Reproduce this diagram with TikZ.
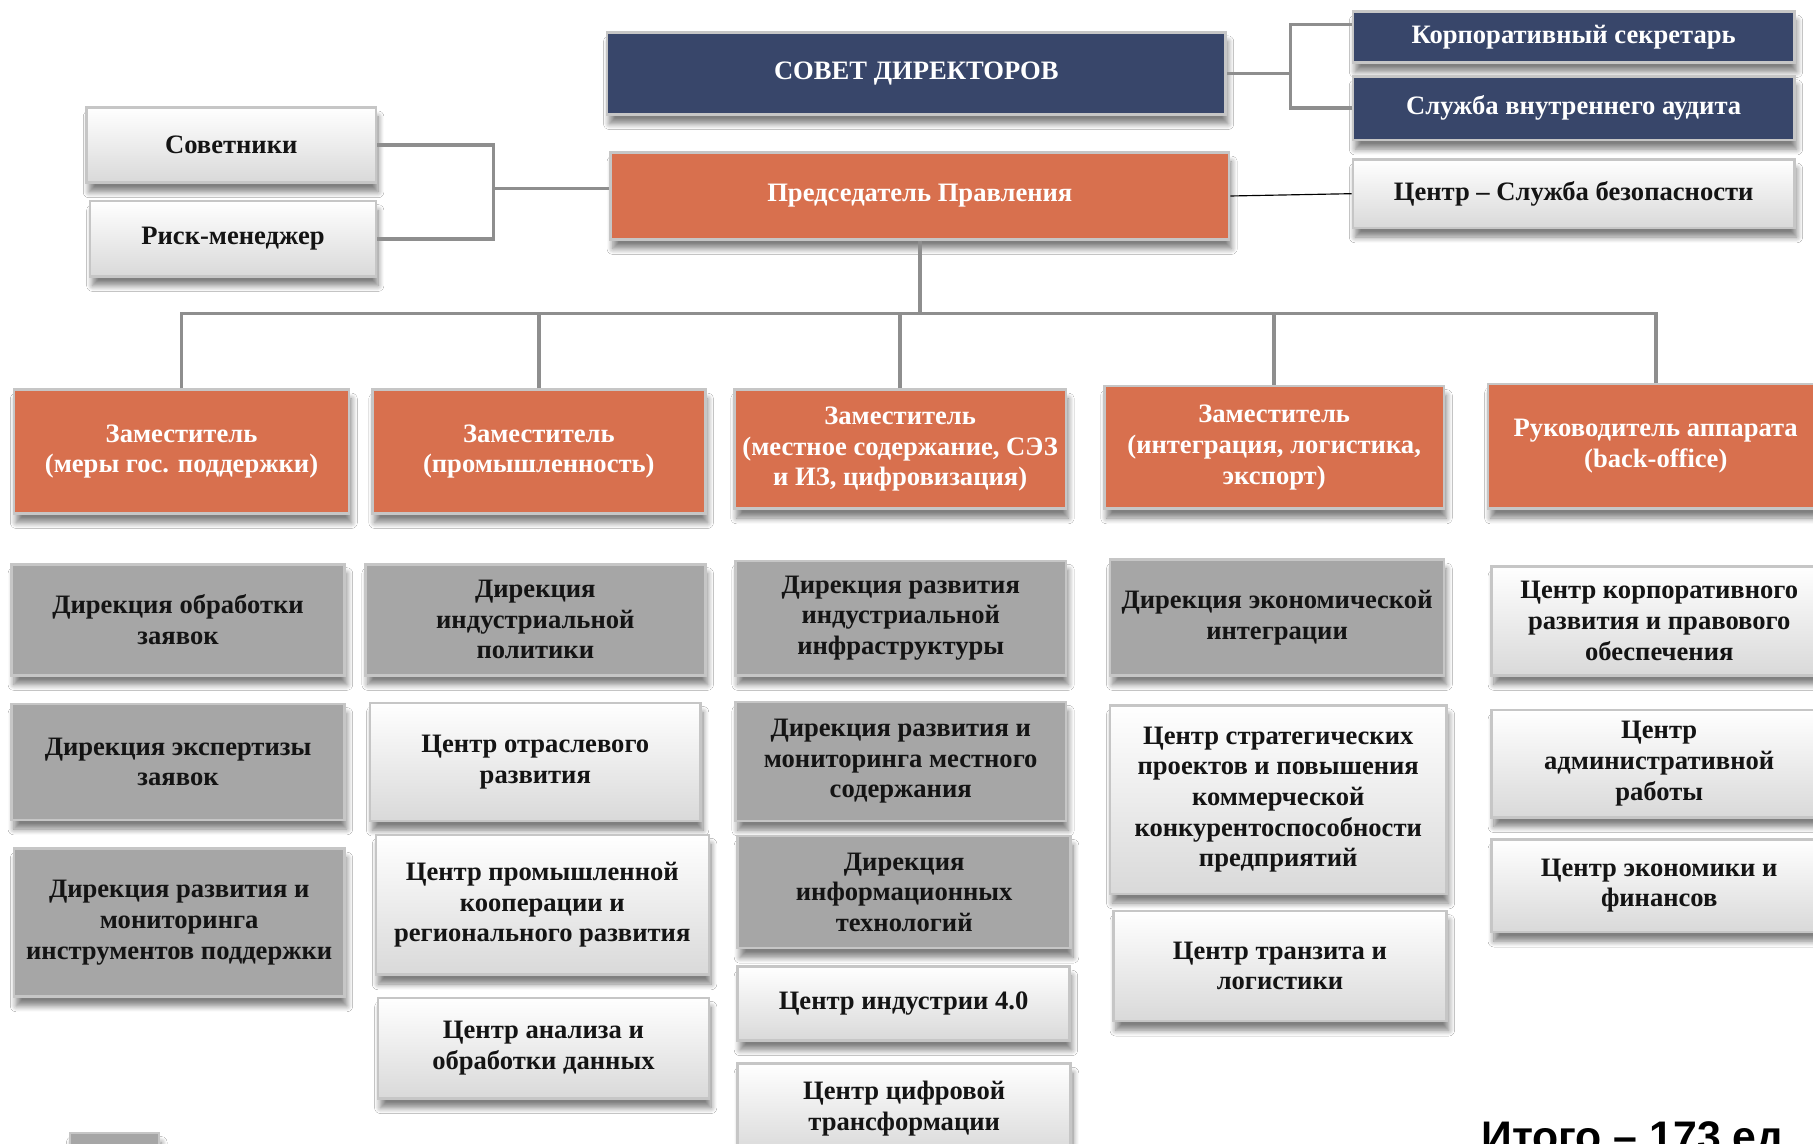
\documentclass[tikz,border=0pt]{standalone}
\usepackage{fontspec}
\setmainfont{Liberation Serif}
\newfontfamily\sansb{Liberation Sans}
\usetikzlibrary{shadows.blur,calc}
\definecolor{navy}{HTML}{38466A}
\definecolor{orng}{HTML}{D8704E}
\definecolor{dgray}{HTML}{A6A6A6}
\definecolor{edge}{HTML}{C6C6C6}
\definecolor{wbot}{HTML}{D9D9D9}
\definecolor{wirec}{HTML}{8E8E8E}
\definecolor{ink}{HTML}{141414}
\tikzset{
  unit/.style={rectangle,draw=edge,line width=2.2pt,align=center,inner sep=2pt,
    font=\fontsize{23}{26.5}\selectfont\bfseries,
    blur shadow={shadow xshift=2pt,shadow yshift=-8pt,shadow blur radius=5pt,
      shadow blur steps=8,shadow opacity=50}},
  sz/.style 2 args={minimum width=#1,minimum height=#2},
  board/.style={unit,fill=navy,text=white},
  head/.style={unit,fill=orng,text=white},
  dept/.style={unit,fill=dgray,text=ink},
  cntr/.style={unit,top color=white,bottom color=wbot,text=ink},
  wire/.style={draw=wirec,line width=3pt},
}

\begin{document}
\begin{tikzpicture}[x=1pt,y=-1pt]
  \fill[white] (0,0) rectangle (1568,989);
  \useasboundingbox (0,0) rectangle (1568,989);
  % ---------- top level ----------
  \node[board,sz={535}{71}] (sovet) at (792.5,63.5) {СОВЕТ ДИРЕКТОРОВ};
  \node[board,sz={382}{44}] (corp) at (1361,32) {Корпоративный секретарь};
  \node[board,sz={382}{55}] (audit) at (1361,93.5) {Служба внутреннего аудита};
  \node[head,sz={535}{75}] (pred) at (795.5,169.5) {Председатель Правления};
  \node[cntr,sz={382}{59}] (sb) at (1361,167.5) {Центр – Служба безопасности};
  \node[cntr,sz={250}{65}] (sovetn) at (200,125.5) {Советники};
  \node[cntr,sz={247}{65}] (risk) at (201.5,206.5) {Риск-менеджер};
  \draw[wire] (sovet.east) -- ++(55,0) coordinate (jb);
  \draw[wire] ([yshift=11pt]corp.west) -| (jb) |- (audit.west);
  \coordinate (ja) at (427,163);
  \draw[wire] (sovetn.east) -| (ja) |- (risk.east);
  \draw[wire] (ja) -- (ja -| pred.west);
  \draw[black,line width=1pt] (pred.east) -- (sb.west);
  % ---------- deputies ----------
  \node[head,sz={290}{107}] (d1) at (157,390.5) {Заместитель\\(меры гос. поддержки)};
  \node[head,sz={288}{107}] (d2) at (466,390.5) {Заместитель\\(промышленность)};
  \node[head,sz={287}{103}] (d3) at (778.5,388.5) {Заместитель\\(местное содержание, СЭЗ\\и ИЗ, цифровизация)};
  \node[head,sz={294}{106}] (d4) at (1102,387) {Заместитель\\(интеграция, логистика,\\экспорт)};
  \node[head,sz={290}{108}] (d5) at (1432,386) {Руководитель аппарата\\(back-office)};
  \coordinate (bus) at (795.5,271);
  \draw[wire] (pred.south) -- (bus);
  \foreach \d in {d1,d2,d3,d4,d5} \draw[wire] (\d.north) |- (bus);
  % ---------- units ----------
  \node[dept,sz={288}{96}] (c1a) at (154,536) {Дирекция обработки\\заявок};
  \node[dept,sz={288}{100}] (c1b) at (154,659) {Дирекция экспертизы\\заявок};
  \node[dept,sz={286}{128}] (c1c) at (155,798) {Дирекция развития и\\мониторинга\\инструментов поддержки};
  \node[dept,sz={294}{96}] (c2a) at (463,536) {Дирекция\\индустриальной\\политики};
  \node[cntr,sz={286}{102}] (c2b) at (463,659) {Центр отраслевого\\развития};
  \node[cntr,sz={288}{121}] (c2c) at (469,782.5) {Центр промышленной\\кооперации и\\регионального развития};
  \node[cntr,sz={286}{87}] (c2d) at (470,906.5) {Центр анализа и\\обработки данных};
  \node[dept,sz={286}{99}] (c3a) at (779,534.5) {Дирекция развития\\индустриальной\\инфраструктуры};
  \node[dept,sz={286}{103}] (c3b) at (779,658.5) {Дирекция развития и\\мониторинга местного\\содержания};
  \node[dept,sz={288}{97}] (c3c) at (782,771.5) {Дирекция\\информационных\\технологий};
  \node[cntr,sz={287}{64}] (c3d) at (781.5,868) {Центр индустрии 4.0};
  \node[cntr,sz={288}{78}] (c3e) at (782,959) {Центр цифровой\\трансформации};
  \node[dept,sz={289}{100}] (c4a) at (1104.5,534) {Дирекция экономической\\интеграции};
  \node[cntr,sz={291}{163}] (c4b) at (1105.5,691.5) {Центр стратегических\\проектов и повышения\\коммерческой\\конкурентоспособности\\предприятий};
  \node[cntr,sz={288}{95}] (c4c) at (1107,835.5) {Центр транзита и\\логистики};
  \node[cntr,sz={290}{94}] (c5a) at (1435,537) {Центр корпоративного\\развития и правового\\обеспечения};
  \node[cntr,sz={290}{93}] (c5b) at (1435,660.5) {Центр\\административной\\работы};
  \node[cntr,sz={290}{80}] (c5c) at (1435,766) {Центр экономики и\\финансов};
  \node[dept,sz={77}{30}] (tail) at (99,995) {};
  \node[anchor=base west,inner sep=0,font=\sansb\fontsize{37}{40}\selectfont\bfseries] (total) at (1281,996) {Итого – 173 ед};
\end{tikzpicture}
\end{document}
